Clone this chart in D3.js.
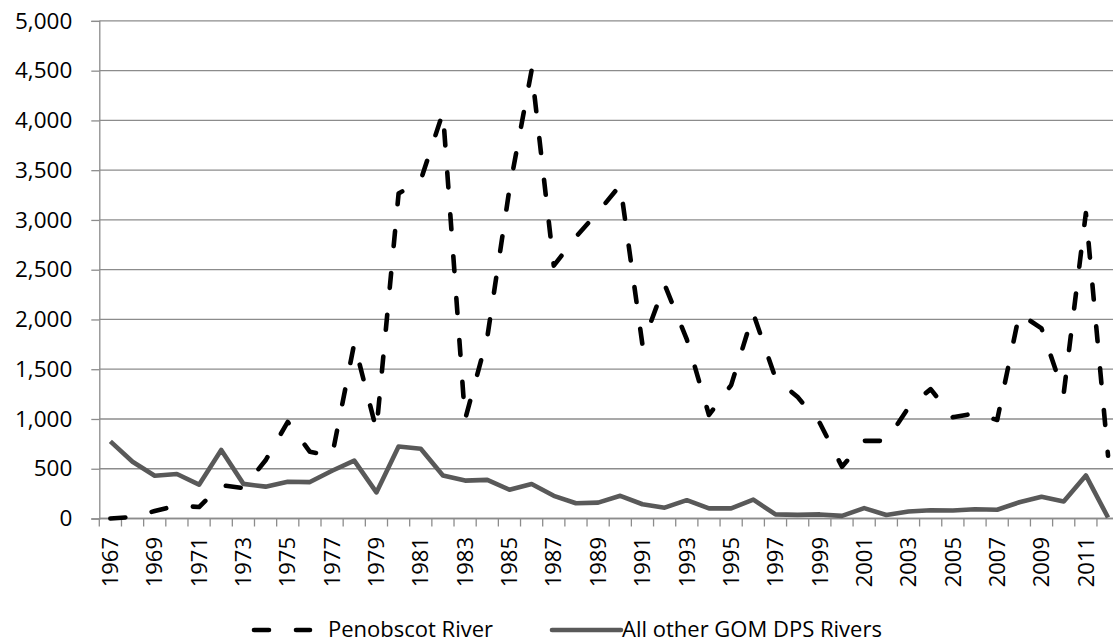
<!DOCTYPE html>
<html>
<head>
<meta charset="utf-8">
<script src="https://cdn.jsdelivr.net/npm/d3@7"></script>
<style>
  body { margin: 0; background: #fff; }
  text { font-family: "Open Sans", "Liberation Sans", sans-serif; fill: #000; }
</style>
</head>
<body>
<div id="chart"></div>
<script>
var years = d3.range(1967, 2013)

var penobscot = [0, 15, 75, 130, 115, 335, 305, 585, 970, 670,
  630, 1760, 890, 3265, 3400, 4080, 995, 1820, 3310, 4505,
  2540, 2830, 3080, 3350, 1745, 2350, 1800, 1040, 1340, 2060,
  1410, 1220, 960, 520, 780, 780, 1115, 1300, 1017, 1057,
  990, 2060, 1910, 1255, 3070, 630]

var otherRivers = [775, 570, 430, 447, 340, 688, 348, 320, 370, 366,
  480, 582, 262, 724, 700, 432, 381, 388, 289, 347,
  228, 153, 160, 228, 143, 109, 184, 102, 102, 190,
  41, 36, 41, 26, 104, 35, 70, 83, 80, 93,
  88, 163, 218, 172, 433, 10]

var yTicks = d3.range(0, 5001, 500)
var seriesNames = ["Penobscot River", "All other GOM DPS Rivers"]

var W = 1113, H = 644
var plotLeft = 99.3, plotTop = 20.9, plotBottom = 518.5
var band = 22.17
var gridColor = "#8c8c8c"

var svg = d3.select("#chart").append("svg")
    .attr("width", W)
    .attr("height", H)

var x = d3.scaleBand()
    .domain(years)
    .range([plotLeft, plotLeft + band * years.length])

var y = d3.scaleLinear()
    .domain([0, 5000])
    .range([plotBottom, plotTop])

var plotRight = plotLeft + band * years.length

// horizontal gridlines
svg.append("g").selectAll("line")
    .data(yTicks)
    .enter().append("line")
    .attr("x1", plotLeft)
    .attr("x2", plotRight)
    .attr("y1", function(d) { return y(d) })
    .attr("y2", function(d) { return y(d) })
    .attr("stroke", gridColor)
    .attr("stroke-width", 1.3)

// y axis
var yAxis = svg.append("g")
    .attr("transform", "translate(" + plotLeft + ",0)")
    .call(d3.axisLeft(y).tickValues(yTicks).tickFormat(d3.format(",")).tickSize(8).tickPadding(19))
yAxis.select(".domain").attr("stroke", gridColor).attr("stroke-width", 1.3)
yAxis.selectAll(".tick line").attr("stroke", gridColor).attr("stroke-width", 1.3)
yAxis.selectAll("text")
    .attr("font-size", "22.5px")
    .attr("font-family", "'Open Sans', sans-serif")
    .attr("fill", "#000")

// x axis: ticks on category boundaries
svg.append("g").selectAll("line")
    .data(d3.range(0, years.length + 1))
    .enter().append("line")
    .attr("x1", function(i) { return plotLeft + i * x.step() })
    .attr("x2", function(i) { return plotLeft + i * x.step() })
    .attr("y1", plotBottom)
    .attr("y2", plotBottom + 8)
    .attr("stroke", gridColor)
    .attr("stroke-width", 1.3)

svg.append("line")
    .attr("x1", plotLeft)
    .attr("x2", plotRight)
    .attr("y1", plotBottom)
    .attr("y2", plotBottom)
    .attr("stroke", gridColor)
    .attr("stroke-width", 1.3)

var cx = function(yr) { return x(yr) + x.bandwidth() / 2 }

svg.append("g").selectAll("text")
    .data(years.filter(function(d, i) { return i % 2 === 0 }))
    .enter().append("text")
    .attr("transform", function(d) { return "translate(" + cx(d) + ",537) rotate(-90)" })
    .attr("text-anchor", "end")
    .attr("dy", "0.35em")
    .attr("font-size", "22px")
    .text(function(d) { return d })

var line = d3.line()
    .x(function(d, i) { return cx(years[i]) })
    .y(function(d) { return y(d) })

svg.append("path")
    .datum(otherRivers)
    .attr("d", line)
    .attr("fill", "none")
    .attr("stroke", "#595959")
    .attr("stroke-width", 4.6)
    .attr("stroke-linejoin", "round")

svg.append("path")
    .datum(penobscot)
    .attr("d", line)
    .attr("fill", "none")
    .attr("stroke", "#000")
    .attr("stroke-width", 4.6)
    .attr("stroke-dasharray", "15,27")
    .attr("stroke-linecap", "round")
    .attr("stroke-linejoin", "round")

// legend
var legend = svg.append("g").attr("transform", "translate(0,629)")

legend.append("line")
    .attr("x1", 254).attr("x2", 310)
    .attr("y1", 1).attr("y2", 1)
    .attr("stroke", "#000")
    .attr("stroke-width", 4.6)
    .attr("stroke-dasharray", "15,27")
    .attr("stroke-linecap", "round")

legend.append("text")
    .attr("x", 328)
    .attr("dy", "0.35em")
    .attr("font-size", "22px")
    .text(seriesNames[0])

legend.append("line")
    .attr("x1", 552).attr("x2", 621)
    .attr("y1", 1).attr("y2", 1)
    .attr("stroke", "#595959")
    .attr("stroke-width", 4.6)
    .attr("stroke-linecap", "round")

legend.append("text")
    .attr("x", 622)
    .attr("dy", "0.35em")
    .attr("font-size", "22px")
    .text(seriesNames[1])
</script>
</body>
</html>
